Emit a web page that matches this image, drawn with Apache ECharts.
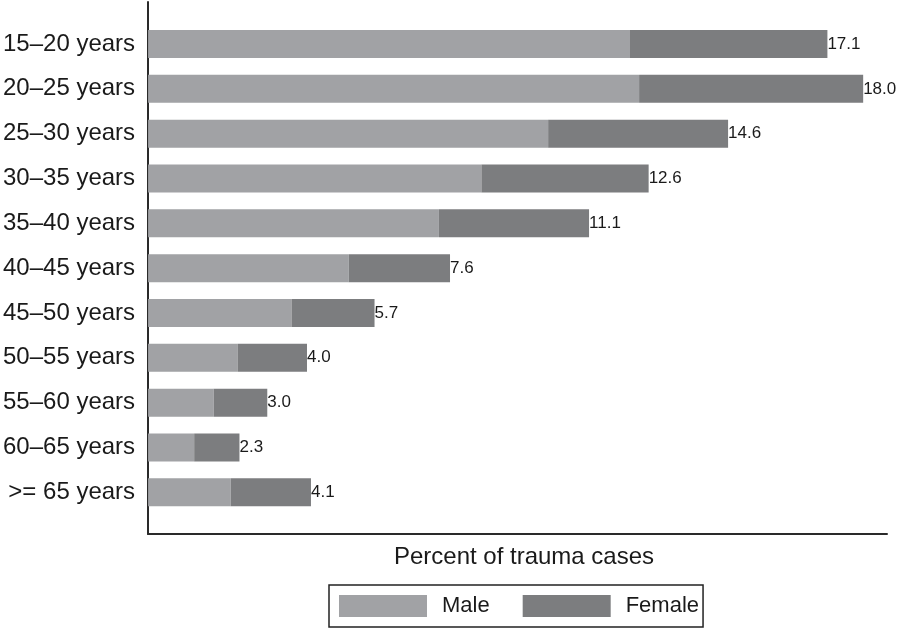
<!DOCTYPE html>
<html>
<head>
<meta charset="utf-8">
<script src="https://cdn.jsdelivr.net/npm/echarts@6/dist/echarts.min.js"></script>
<style>html,body{margin:0;padding:0;background:#fff;}#c{width:904px;height:628px;}</style>
</head>
<body>
<div id="c"></div>
<script>
const categories = ['15\u201320 years','20\u201325 years','25\u201330 years','30\u201335 years','35\u201340 years','40\u201345 years','45\u201350 years','50\u201355 years','55\u201360 years','60\u201365 years','>= 65 years'];
const totals = [17.1, 18.0, 14.6, 12.6, 11.1, 7.6, 5.7, 4.0, 3.0, 2.3, 4.1];
const male = [12.13, 12.36, 10.07, 8.39, 7.32, 5.05, 3.61, 2.26, 1.65, 1.16, 2.08];
const female = totals.map((t, i) => +(t - male[i]).toFixed(2));
const totalLabels = ['17.1','18.0','14.6','12.6','11.1','7.6','5.7','4.0','3.0','2.3','4.1'];
const xTitle = 'Percent of trauma cases';

const FONT = "'Liberation Sans', Arial, Helvetica, sans-serif";
const chart = echarts.init(document.getElementById('c'), null, {renderer: 'canvas'});
chart.setOption({
  animation: false,
  backgroundColor: '#fff',
  textStyle: {fontFamily: FONT, color: '#1a1a1a'},
  grid: [
    {left: 148, right: 17, top: 21.6, bottom: 113.3, containLabel: false},
    {left: 148, right: 17, top: 2, bottom: 94, containLabel: false}
  ],
  xAxis: [
    {gridIndex: 0, type: 'value', min: 0, max: 18.6, show: false},
    {gridIndex: 1, type: 'value', min: 0, max: 1, axisLine: {show: true, lineStyle: {color: '#2a2a2a', width: 2}},
     axisTick: {show: false}, axisLabel: {show: false}, splitLine: {show: false}}
  ],
  yAxis: [
    {gridIndex: 0, type: 'category', data: categories, inverse: true,
     axisLine: {show: false}, axisTick: {show: false},
     axisLabel: {fontSize: 24, color: '#1a1a1a', margin: 13, fontFamily: FONT}},
    {gridIndex: 1, type: 'value', min: 0, max: 1, axisLine: {show: true, lineStyle: {color: '#2a2a2a', width: 2}},
     axisTick: {show: false}, axisLabel: {show: false}, splitLine: {show: false}}
  ],
  legend: {
    left: 329, top: 585,
    padding: [10, 4, 10, 10],
    itemWidth: 88, itemHeight: 22, itemGap: 33,
    borderColor: '#222', borderWidth: 1.5,
    icon: 'rect',
    data: ['Male', 'Female'],
    textStyle: {fontSize: 22, color: '#1a1a1a', fontFamily: FONT, padding: [0, 0, 0, 10]}
  },
  graphic: [{
    type: 'text', x: 524, y: 557,
    style: {text: xTitle, align: 'center', verticalAlign: 'middle', font: "24px " + FONT, fill: '#1a1a1a'}
  }],
  series: [
    {name: 'Male', type: 'bar', stack: 'a', xAxisIndex: 0, yAxisIndex: 0, data: male, barWidth: 28,
     itemStyle: {color: '#a1a2a5'}},
    {name: 'Female', type: 'bar', stack: 'a', xAxisIndex: 0, yAxisIndex: 0, data: female, barWidth: 28,
     itemStyle: {color: '#7c7d7f'},
     label: {show: true, position: 'right', distance: 0, fontSize: 17, color: '#1a1a1a', fontFamily: FONT,
       formatter: p => totalLabels[p.dataIndex]}}
  ]
});
</script>
</body>
</html>
